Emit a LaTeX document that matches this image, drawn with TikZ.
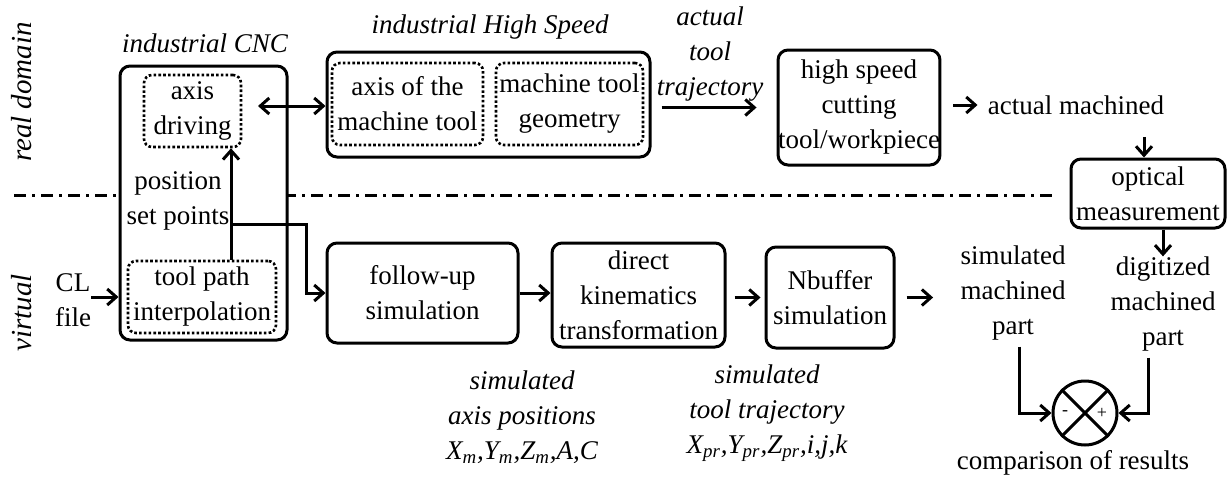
\documentclass[tikz,border=0pt]{standalone}
\usepackage{fontspec}
\setmainfont{Liberation Serif}
\usetikzlibrary{arrows.meta,calc}
\newcommand{\diagfont}{\fontsize{13.5}{17.5}\selectfont}
\tikzset{
  box/.style={draw, line width=1.5pt, rounded corners=5pt, fill=white, align=center, font=\diagfont, inner sep=0pt},
  dotbox/.style={draw, line width=1.3pt, dash pattern=on 1.3pt off 1.1pt, rounded corners=4pt, align=center, font=\diagfont, inner sep=0pt},
  txt/.style={align=center, font=\diagfont, inner sep=0pt},
  itxt/.style={align=center, font=\diagfont\itshape, inner sep=0pt},
  arr/.style={line width=1.5pt, -{Straight Barb[length=4.5pt,width=8pt]}},
  arrs/.style={line width=1.5pt, {Straight Barb[length=4.5pt,width=8pt]}-{Straight Barb[length=4.5pt,width=8pt]}},
  domainline/.style={line width=1.5pt, dash pattern=on 6pt off 3pt on 1.5pt off 3pt}
}
\begin{document}
\begin{tikzpicture}[x=0.5pt,y=-0.5pt]
  \useasboundingbox (0,0) rectangle (1228,477);
  %DOMAINS
  \node[itxt, rotate=90, font=\fontsize{14.5}{17}\selectfont\itshape] (real) at (22,92) {real domain};
  \node[itxt, rotate=90, font=\fontsize{14.5}{17}\selectfont\itshape] (virt) at (22,313) {virtual};
  \coordinate (dl) at (14,195);
  \coordinate (dr) at (1052,195);
  \draw[domainline] (dl) -- (dr);
  %CNC
  \node[itxt] (cnclabel) at (205,43) {industrial CNC};
  \node[box, minimum width=83.5pt, minimum height=137pt] (cnc) at (203.5,203) {};
  \node[dotbox, minimum width=48.5pt, minimum height=36pt] (drive) at (192.5,111) {axis\\driving};
  \node[dotbox, minimum width=74pt, minimum height=36pt] (interp) at (202,297) {tool path\\interpolation};
  \node[txt] (setp) at (178,201) {position\\set points};
  \node[txt] (clf) at (73,300) {CL\\file};
  %MACHINE
  \node[itxt] (hslabel) at (490,27) {industrial High Speed};
  \node[box, minimum width=161.5pt, minimum height=52.5pt] (hsm) at (488.5,104.5) {};
  \node[dotbox, minimum width=75.5pt, minimum height=41pt] (axes) at (407.5,104) {axis of the\\machine tool};
  \node[dotbox, minimum width=73.5pt, minimum height=41pt] (geom) at (569.5,104) {machine tool\\geometry};
  \node[itxt] (traj) at (710,54) {actual\\tool\\trajectory};
  \node[box, minimum width=79pt, minimum height=57.5pt] (cut) at (859,107.5) {high speed\\cutting\\tool/workpiece};
  \node[txt] (act) at (1076,105) {actual machined};
  \node[box, minimum width=77pt, minimum height=34.5pt] (optic) at (1148,193.5) {optical\\measurement};
  %SIMULATION
  \node[box, minimum width=95.5pt, minimum height=50pt] (follow) at (422.5,293) {follow-up\\simulation};
  \node[box, minimum width=86.5pt, minimum height=52pt] (kin) at (638.5,295) {direct\\kinematics\\transformation};
  \node[box, minimum width=64pt, minimum height=50.5pt] (nbuf) at (830,297.5) {Nbuffer\\simulation};
  \node[itxt] (axpos) at (522,417) {simulated\\axis positions\\X\textsubscript{m},Y\textsubscript{m},Z\textsubscript{m},A,C};
  \node[itxt] (tooltraj) at (767,413) {simulated\\tool trajectory\\X\textsubscript{pr},Y\textsubscript{pr},Z\textsubscript{pr},i,j,k};
  \node[txt] (sim) at (1013,293) {simulated\\machined\\part};
  \node[txt] (dig) at (1163,304) {digitized\\machined\\part};
  %COMPARISON
  \node[draw, circle, line width=1.5pt, minimum size=32pt, inner sep=0pt] (cmp) at (1085,413) {};
  \draw[line width=1.5pt] (cmp.45) -- (cmp.225);
  \draw[line width=1.5pt] (cmp.135) -- (cmp.-45);
  \node[inner sep=0pt, font=\fontsize{9}{10}\selectfont] (minus) at ($(cmp)+(-20,0)$) {-};
  \node[inner sep=0pt, font=\fontsize{9}{10}\selectfont] (plus) at ($(cmp)+(17,0)$) {+};
  \node[txt] (res) at (1073,463) {comparison of results};
  %ARROWS
  \draw[arr] (clf.east |- interp.west) -- (cnc.west |- interp.west);
  \coordinate (tap) at (231,261);
  \draw[arr] (interp.north -| tap) -- (drive.south -| tap);
  \coordinate (split) at (231,224);
  \draw[arr] (split) -- ++(75,0) |- (follow.west);
  \coordinate (link) at (258,106);
  \draw[arrs] (link) -- (link -| hsm.west);
  \draw[arr, shorten <=5pt, shorten >=10pt] (hsm.east |- cut.west) -- (cut.west);
  \draw[arr, shorten <=6pt, shorten >=5pt] (cut.east |- act.west) -- (act.west);
  \draw[arr, shorten <=11pt] ([xshift=-2pt]optic.north |- act.south) -- ([xshift=-2pt]optic.north);
  \draw[arr] (optic.south -| dig.north) -- (dig.north);
  \draw[arr] (follow.east) -- (kin.west |- follow.east);
  \draw[arr, shorten <=4pt, shorten >=2pt] (kin.east |- nbuf.west) -- (nbuf.west);
  \draw[arr, shorten <=5.5pt, shorten >=13.5pt] (nbuf.east) -- (sim.west |- nbuf.east);
  \draw[arr, shorten <=3pt] ([xshift=3pt]sim.south) |- (cmp.west);
  \draw[arr, shorten <=3pt] ([xshift=-7.5pt]dig.south) |- (cmp.east);
\end{tikzpicture}
\end{document}
